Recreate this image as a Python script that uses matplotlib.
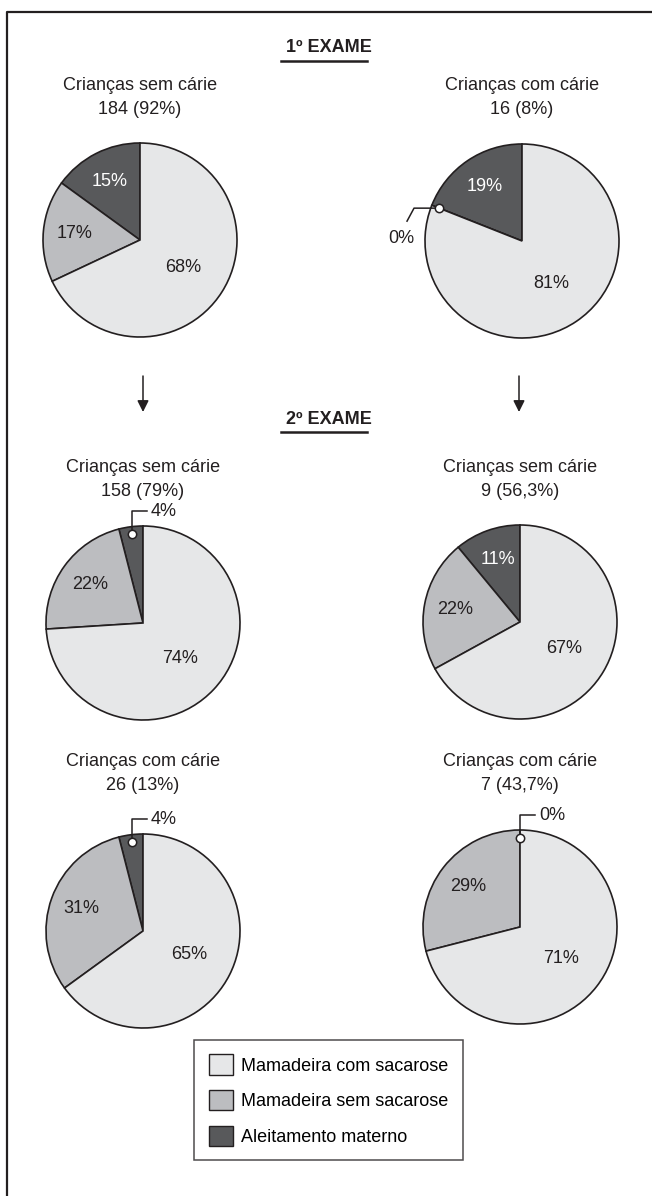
import numpy as np
import matplotlib
matplotlib.use('Agg')
import matplotlib.pyplot as plt
from matplotlib.patches import Patch

plt.rcParams['font.family'] = ['Liberation Sans', 'DejaVu Sans']

# dados
categorias = ['Mamadeira com sacarose', 'Mamadeira sem sacarose', 'Aleitamento materno']
cores = ['#e6e7e8', '#bcbdc0', '#58595b']

titulos = ['Crianças sem cárie', 'Crianças com cárie',
           'Crianças sem cárie', 'Crianças sem cárie',
           'Crianças com cárie', 'Crianças com cárie']
contagens = ['184 (92%)', '16 (8%)', '158 (79%)', '9 (56,3%)', '26 (13%)', '7 (43,7%)']
com_sacarose = [68, 81, 74, 67, 65, 71]
sem_sacarose = [17, 0, 22, 22, 31, 29]
aleitamento = [15, 19, 4, 11, 4, 0]
exames = ['1º EXAME', '2º EXAME']

# layout em pixels (y de cima para baixo)
W, H = 652, 1196
centros = [(140, 240), (522, 241), (143, 623), (520, 622), (143, 931), (520, 927)]
titulo_y = [85, 85, 468, 468, 762, 762]
R = 97
callouts = {1: 'left', 2: 'top', 4: 'top', 5: 'top'}
edge = '#231f20'
fs = 13


def Y(y):
    return H - y


fig = plt.figure(figsize=(W / 100, H / 100), dpi=100)
ax = fig.add_axes([0, 0, 1, 1])

for i in range(6):
    cx, cy = centros[i]
    # ordem anti-horaria a partir do topo: aleitamento, sem sacarose, com sacarose
    vals = [aleitamento[i], sem_sacarose[i], com_sacarose[i]]
    cs = [cores[2], cores[1], cores[0]]
    wedges, _ = ax.pie(vals, colors=cs, startangle=90, counterclock=True,
                       center=(cx, Y(cy)), radius=R, frame=True,
                       wedgeprops=dict(edgecolor=edge, linewidth=1.2))
    # titulos
    top = cy - R
    ax.text(cx, Y(titulo_y[i]), titulos[i], ha='center', va='center', fontsize=fs, color='#231f20')
    ax.text(cx, Y(titulo_y[i] + 24), contagens[i], ha='center', va='center', fontsize=fs, color='#231f20')

    for k, w in enumerate(wedges):
        v = vals[k]
        mid = np.deg2rad((w.theta1 + w.theta2) / 2)
        if v < 5:
            kind = callouts.get(i)
            if kind is None:
                continue
            rr = 0.92 * R
            dx, dy = cx + rr * np.cos(mid), Y(cy) + rr * np.sin(mid)
            if kind == 'top':
                ytop = Y(top - 15)
                ax.plot([dx, dx, dx + 15], [dy, ytop, ytop], color=edge, lw=1.1, zorder=5)
                ax.text(dx + 19, ytop, f'{v}%', ha='left', va='center', fontsize=fs, color='#231f20')
            else:
                ax.plot([dx, dx - 25, dx - 32], [dy, dy, dy - 13], color=edge, lw=1.1, zorder=5)
                ax.text(dx - 38, dy - 30, f'{v}%', ha='center', va='center', fontsize=fs, color='#231f20')
            ax.plot(dx, dy, 'o', ms=6, mfc='white', mec=edge, mew=1.1, zorder=6)
            continue
        d = 0.53 * R if k == 2 else 0.68 * R
        tc = 'white' if k == 0 else '#231f20'
        ax.text(cx + d * np.cos(mid), Y(cy) + d * np.sin(mid), f'{v}%',
                ha='center', va='center', fontsize=fs, color=tc)

# cabecalhos sublinhados
fig.canvas.draw()
rend = fig.canvas.get_renderer()
for txt, y in zip(exames, [48, 419]):
    t = ax.text(329, Y(y), txt, ha='center', va='center', fontsize=fs,
                fontweight='bold', color='#231f20')
    bb = t.get_window_extent(renderer=rend)
    ax.plot([bb.x0, bb.x1], [Y(y + 13), Y(y + 13)], color='#231f20', lw=1.8)

# setas
for x in [143, 519]:
    ax.annotate('', xy=(x, Y(412)), xytext=(x, Y(376)),
                arrowprops=dict(arrowstyle='-|>', color='#231f20', lw=1.1,
                                mutation_scale=17, shrinkA=0, shrinkB=0))

# moldura
ax.plot([7, 7, 660], [Y(1200), Y(12), Y(12)], color='#231f20', lw=1.6)

# legenda
handles = [Patch(facecolor=c, edgecolor=edge, linewidth=1.0) for c in cores]
leg = ax.legend(handles, categorias, loc='upper center',
                bbox_to_anchor=(328.5 / W, 1 - 1040 / H), bbox_transform=fig.transFigure,
                fontsize=fs, frameon=True, fancybox=False, edgecolor=edge,
                handlelength=1.35, handleheight=1.35, labelspacing=0.85,
                borderpad=0.8, handletextpad=0.45, borderaxespad=0)
leg.get_frame().set_linewidth(1.1)

ax.set_xlim(0, W)
ax.set_ylim(0, H)
ax.set_aspect('equal')
ax.axis('off')

fig.savefig('out.png', dpi=100, facecolor='white')
